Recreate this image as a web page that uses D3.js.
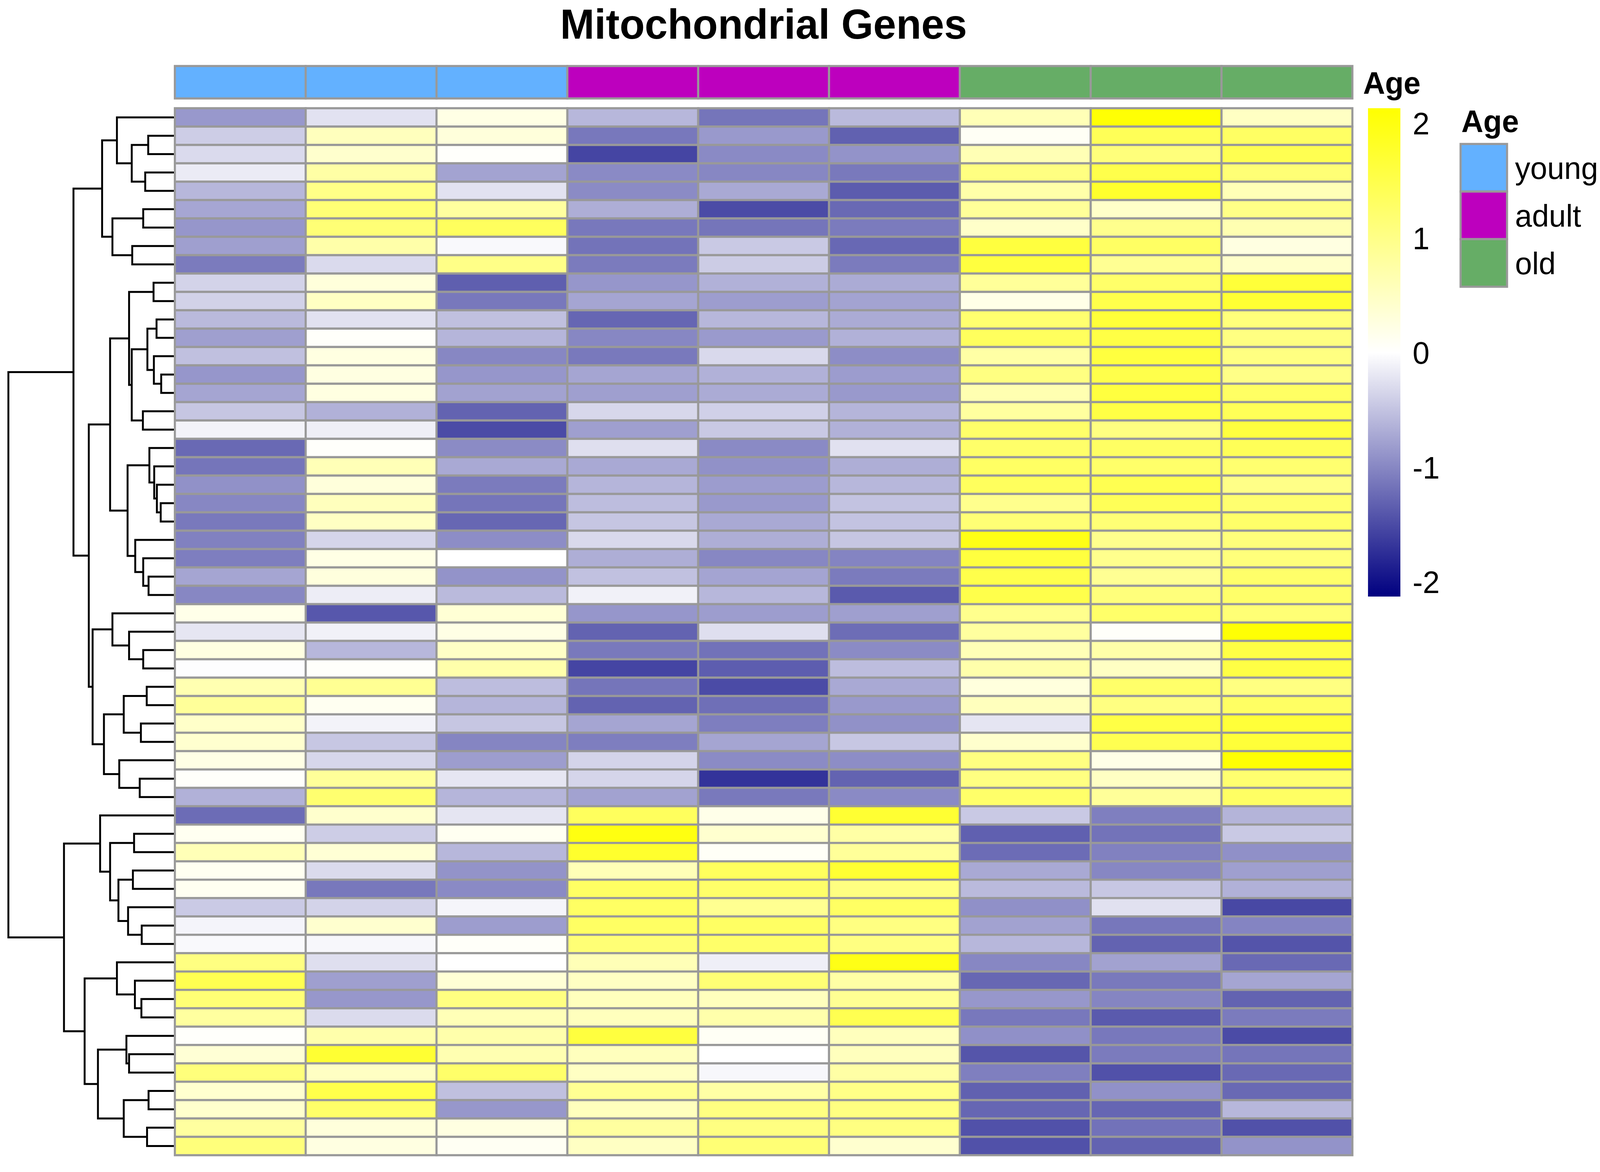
<!DOCTYPE html>
<html>
<head>
<meta charset="utf-8">
<script src="https://d3js.org/d3.v7.min.js"></script>
<style>
  html, body { margin: 0; background: white; overflow: hidden; }
  text { font-family: "Liberation Sans", Arial, sans-serif; fill: black; }
  .axisTick text { font-size: 80px; }
</style>
</head>
<body>
<div id="chart"></div>
<script>
// Sample columns, in drawing order
var sampleAge = ["young", "young", "young", "adult", "adult", "adult", "old", "old", "old"];

// Age legend
var ageLevels = ["young", "adult", "old"];
var ageColors = ["#63B1FF", "#BD00BE", "#66AD66"];

// Colour scale
var colorTicks = [2, 1, 0, -1, -2];
var colorLimit = 2.13;

// Scaled expression, one row per gene, top to bottom
var geneValues = [
  [-.86, -.24, .22, -.60, -1.15, -.58, .60, 2.10, .50],
  [-.42, .55, .30, -1.13, -.85, -1.32, .08, 1.40, 1.30],
  [-.31, .42, .03, -1.55, -.98, -.90, .62, 1.10, 1.45],
  [-.17, .75, -.77, -.98, -1.00, -1.12, 1.05, 1.50, 1.15],
  [-.60, 1.00, -.24, -.97, -.72, -1.36, .72, 1.75, .60],
  [-.74, 1.15, .80, -.68, -1.50, -1.25, .85, .45, 1.00],
  [-.88, 1.15, 1.35, -1.13, -1.15, -1.10, .45, .95, .65],
  [-.80, .72, -.05, -1.17, -.45, -1.26, 1.60, 1.30, .25],
  [-1.10, -.31, 1.00, -1.10, -.43, -1.10, 1.60, .90, .45],
  [-.37, .30, -1.34, -.88, -.65, -.70, .85, 1.25, 1.65],
  [-.38, .50, -1.13, -.75, -.82, -.77, .20, 1.50, 1.70],
  [-.58, -.25, -.53, -1.28, -.60, -.70, 1.20, 1.65, 1.10],
  [-.80, .04, -.62, -1.00, -.84, -.65, 1.35, 1.55, 1.05],
  [-.53, .25, -1.00, -1.12, -.32, -.95, .75, 1.60, 1.05],
  [-.88, .25, -.88, -.75, -.65, -.83, 1.05, 1.50, 1.00],
  [-.75, .25, -.78, -.80, -.70, -.85, .65, 1.60, 1.30],
  [-.48, -.65, -1.30, -.33, -.39, -.62, .80, 1.55, 1.40],
  [-.10, -.13, -1.50, -.80, -.45, -.65, 1.25, 1.05, 1.60],
  [-1.25, .03, -.97, -.27, -.98, -.25, 1.25, 1.30, 1.40],
  [-1.15, .60, -.72, -.72, -.92, -.68, 1.30, 1.25, 1.20],
  [-.92, .30, -1.10, -.62, -.83, -.60, 1.35, 1.45, 1.00],
  [-1.00, .55, -1.15, -.55, -.85, -.50, .95, 1.40, 1.20],
  [-1.12, .50, -1.27, -.48, -.72, -.50, 1.15, 1.15, 1.25],
  [-1.05, -.35, -.95, -.32, -.68, -.48, 1.95, .95, 1.10],
  [-1.08, .22, 0, -.68, -1.00, -1.03, 1.60, .95, 1.10],
  [-.75, .28, -.90, -.52, -.76, -1.10, 1.50, .90, 1.25],
  [-1.00, -.15, -.58, -.12, -.60, -1.38, 1.50, 1.10, 1.25],
  [.18, -1.40, .35, -.88, -.82, -.80, .95, 1.25, 1.15],
  [-.21, -.12, .22, -1.30, -.27, -1.22, .80, .04, 2.10],
  [.25, -.60, .48, -1.12, -1.18, -.97, .60, .72, 1.55],
  [-.02, .03, .70, -1.55, -1.35, -.55, .70, .50, 1.55],
  [.65, .90, -.55, -1.15, -1.50, -.72, .28, 1.25, 1.05],
  [.85, .12, -.62, -1.30, -1.20, -.85, .55, 1.05, 1.30],
  [.45, -.10, -.48, -.75, -1.08, -.92, -.22, 1.55, 1.65],
  [.40, -.47, -1.02, -1.08, -.75, -.47, .42, 1.45, 1.65],
  [.22, -.33, -.82, -.36, -.97, -.95, 1.05, .20, 2.10],
  [.04, .85, -.21, -.35, -1.70, -1.30, 1.05, .50, 1.20],
  [-.65, 1.20, -.62, -.78, -1.12, -.98, 1.25, .85, 1.30],
  [-1.23, .42, -.22, 1.35, .18, 1.70, -.45, -1.07, -.63],
  [.12, -.42, .12, 2.00, .40, .75, -1.33, -1.17, -.45],
  [.60, .35, -.60, 1.75, .07, .85, -1.23, -1.05, -.93],
  [.12, -.30, -.90, .60, 1.35, 1.70, -.72, -1.00, -.80],
  [.12, -1.13, -.98, 1.30, 1.25, 1.05, -.58, -.47, -.65],
  [-.44, -.37, -.08, 1.30, .92, 1.30, -.93, -.25, -1.53],
  [-.09, .40, -.82, 1.30, 1.30, 1.05, -.78, -1.14, -1.03],
  [-.05, -.07, .05, 1.15, 1.25, 1.05, -.60, -1.30, -1.43],
  [1.05, -.27, 0, .60, -.13, 1.95, -1.00, -.78, -1.25],
  [1.45, -.80, .35, .50, 1.15, .75, -1.27, -1.12, -.75],
  [1.15, -.87, 1.05, .55, .55, .90, -.87, -1.02, -1.30],
  [.80, -.30, .60, .55, .70, 1.45, -1.13, -1.38, -1.10],
  [.03, .70, .70, 1.60, .08, .55, -.93, -1.13, -1.50],
  [.35, 1.70, .65, .55, 0, .55, -1.42, -1.10, -1.15],
  [1.10, .50, 1.25, .50, -.07, .75, -1.07, -1.45, -1.25],
  [.40, 1.50, -.53, .90, .75, 1.00, -1.32, -.92, -1.25],
  [.42, 1.25, -.87, .55, 1.05, 1.05, -1.28, -1.28, -.60],
  [.80, .30, .25, .80, 1.05, 1.05, -1.45, -1.18, -1.45],
  [1.10, .25, .10, .50, 1.15, .40, -1.45, -1.30, -.90]
];

// Row dendrogram: [merge height, upper branch, lower branch], 0 is a leaf
var rowTree = [10.0,
  [6.09,
    [4.37,
      [3.48, 0, [2.59, [1.60, 0, 0], [1.78, 0, 0]]],
      [3.75, [1.90, 0, 0], [2.56, 0, 0]]],
    [5.17,
      [3.89,
        [2.75, [1.28, 0, 0], [2.59, [1.65, [1.10, 0, 0], [1.26, 0, [0.82, 0, 0]]], [1.92, 0, 0]]],
        [2.84, [1.53, 0, [1.24, 0, [1.08, 0, [0.85, 0, 0]]]], [2.38, 0, [1.90, 0, [1.58, 0, 0]]]]],
      [4.94,
        [3.75, 0, [2.75, 0, [1.90, 0, 0]]],
        [4.26,
          [3.07, [1.69, 0, 0], [2.04, 0, 0]],
          [3.34, 0, [2.11, 0, 0]]]]]],
  [6.66,
    [4.49, 0, [3.89, [2.45, 0, 0], [3.39, [2.52, 0, 0], [2.81, 0, [1.99, 0, 0]]]]],
    [5.42,
      [3.48, 0, [2.40, 0, [2.01, 0, 0]]],
      [4.62,
        [2.91, 0, [2.75, 0, 0]],
        [3.07, [1.58, 0, 0], [1.67, 0, 0]]]]]];

// Setup Chart Dimensions
var svgWidth = 4200;
var svgHeight = 3000;
var heatLeft = 459;
var heatRight = 3550;
var heatTop = 277;
var heatBottom = 2957;
var borderColor = "#999999";
var borderWidth = 5.5;

// The drawing is fitted to the window, which can be narrower than 4200
var svg = d3.select("#chart")
  .append("svg")
  .attr("viewBox", "0 0 " + svgWidth + " " + svgHeight)
  .attr("preserveAspectRatio", "none")
  .style("width", "100vw")
  .style("height", "100vh")
  .style("display", "block");

// Scales
var xScale = d3.scaleBand()
  .domain(d3.range(sampleAge.length))
  .range([heatLeft, heatRight]);

var yScale = d3.scaleBand()
  .domain(d3.range(geneValues.length))
  .range([heatTop, heatBottom]);

var heatColor = d3.scaleLinear()
  .domain([-colorLimit, 0, colorLimit])
  .range(["#000080", "#ffffff", "#ffff00"]);

var ageColor = d3.scaleOrdinal()
  .domain(ageLevels)
  .range(ageColors);

var treeX = d3.scaleLinear()
  .domain([0, 10])
  .range([heatLeft, 22]);

// Title
svg.append("text")
  .attr("x", (heatLeft + heatRight) / 2)
  .attr("y", 99)
  .attr("text-anchor", "middle")
  .attr("font-weight", "bold")
  .attr("font-size", 108)
  .text("Mitochondrial Genes");

// Dendrogram
var root = d3.hierarchy(rowTree, function(d) { return Array.isArray(d) ? d.slice(1) : null; });
root.leaves().forEach(function(leaf, i) {
  leaf.yPos = yScale(i) + yScale.bandwidth() / 2;
  leaf.xPos = treeX(0);
});
root.eachAfter(function(node) {
  if (node.children) {
    node.xPos = treeX(node.data[0]);
    node.yPos = (node.children[0].yPos + node.children[1].yPos) / 2;
  }
});

svg.append("g")
  .selectAll("path")
  .data(root.descendants().filter(function(d) { return d.children; }))
  .enter()
  .append("path")
  .attr("d", function(d) {
    var a = d.children[0], b = d.children[1];
    return "M" + a.xPos + "," + a.yPos + "H" + d.xPos + "V" + b.yPos + "H" + b.xPos;
  })
  .attr("fill", "none")
  .attr("stroke", "black")
  .attr("stroke-width", 5);

// Annotation strip
svg.append("g")
  .selectAll("rect")
  .data(sampleAge)
  .enter()
  .append("rect")
  .attr("x", function(d, i) { return xScale(i); })
  .attr("y", 169)
  .attr("width", xScale.bandwidth())
  .attr("height", 83)
  .attr("fill", function(d) { return ageColor(d); })
  .attr("stroke", borderColor)
  .attr("stroke-width", borderWidth);

svg.append("text")
  .attr("x", 3578)
  .attr("y", 240)
  .attr("font-weight", "bold")
  .attr("font-size", 80)
  .text("Age");

// Heatmap cells
svg.append("g")
  .selectAll("g")
  .data(geneValues)
  .enter()
  .append("g")
  .selectAll("rect")
  .data(function(row, r) { return row.map(function(v, c) { return { r: r, c: c, v: v }; }); })
  .enter()
  .append("rect")
  .attr("x", function(d) { return xScale(d.c); })
  .attr("y", function(d) { return yScale(d.r); })
  .attr("width", xScale.bandwidth())
  .attr("height", yScale.bandwidth())
  .attr("fill", function(d) { return heatColor(d.v); })
  .attr("stroke", borderColor)
  .attr("stroke-width", borderWidth);

// Colour bar
var barScale = d3.scaleLinear()
  .domain([colorLimit, -colorLimit])
  .range([277, 1527]);

var gradient = svg.append("defs")
  .append("linearGradient")
  .attr("id", "barGradient")
  .attr("x1", 0).attr("x2", 0)
  .attr("y1", 0).attr("y2", 1);

heatColor.domain().slice().reverse().forEach(function(v) {
  gradient.append("stop")
    .attr("offset", (barScale(v) - barScale.range()[0]) / (barScale.range()[1] - barScale.range()[0]))
    .attr("stop-color", heatColor(v));
});

svg.append("rect")
  .attr("x", 3591)
  .attr("y", barScale.range()[0])
  .attr("width", 85)
  .attr("height", barScale.range()[1] - barScale.range()[0])
  .attr("fill", "url(#barGradient)");

var barAxis = d3.axisRight(barScale)
  .tickValues(colorTicks)
  .tickSize(0)
  .tickPadding(0)
  .tickFormat(function(d) { return String(d); });

svg.append("g")
  .attr("class", "axisTick")
  .attr("transform", "translate(3708,0)")
  .call(barAxis)
  .call(function(g) { g.select(".domain").remove(); })
  .call(function(g) {
    g.selectAll("text")
      .attr("font-size", null)
      .attr("font-family", null)
      .attr("dy", "0.36em");
  });

// Age legend
var legendScale = d3.scaleBand()
  .domain(ageLevels)
  .range([368.5, 734]);

svg.append("text")
  .attr("x", 3836)
  .attr("y", 338)
  .attr("font-weight", "bold")
  .attr("font-size", 80)
  .text("Age");

svg.append("g")
  .selectAll("rect")
  .data(ageLevels)
  .enter()
  .append("rect")
  .attr("x", 3834)
  .attr("y", function(d) { return legendScale(d); })
  .attr("width", 122)
  .attr("height", legendScale.bandwidth())
  .attr("fill", function(d) { return ageColor(d); })
  .attr("stroke", borderColor)
  .attr("stroke-width", borderWidth);

svg.append("g")
  .selectAll("text")
  .data(ageLevels)
  .enter()
  .append("text")
  .attr("x", 3977)
  .attr("y", function(d) { return legendScale(d) + legendScale.bandwidth() / 2 + 29; })
  .attr("font-size", 80)
  .text(function(d) { return d; });
</script>
</body>
</html>
